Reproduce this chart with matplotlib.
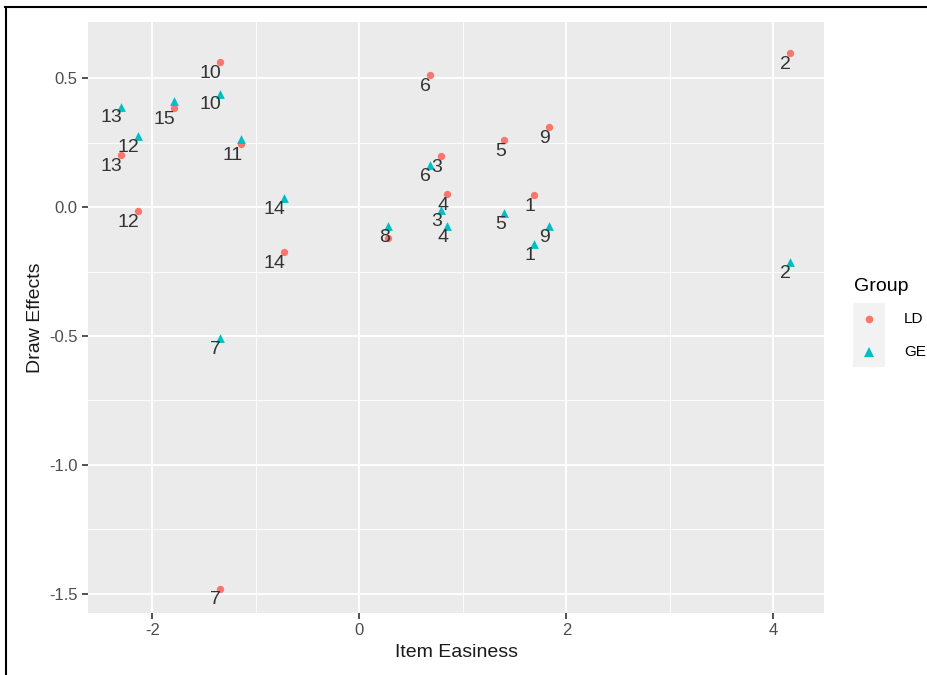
import matplotlib.pyplot as plt
from matplotlib.patches import Rectangle
from matplotlib.lines import Line2D

plt.rcParams['font.family'] = ['Liberation Sans', 'DejaVu Sans']

# item numbers and values
items = ["10", "15", "13", "12", "11", "14", "7", "6", "3", "4", "8", "5", "9", "1", "2"]

ld_x = [-1.35, -1.79, -2.30, -2.14, -1.14, -0.725, -1.35, 0.68, 0.79, 0.85, 0.28, 1.40, 1.83, 1.69, 4.16]
ld_y = [0.562, 0.384, 0.202, -0.016, 0.244, -0.174, -1.48, 0.512, 0.198, 0.050, -0.120, 0.260, 0.310, 0.047, 0.597]

ge_x = [-1.35, -1.79, -2.30, -2.14, -1.14, -0.725, -1.35, 0.68, 0.79, 0.85, 0.28, 1.40, 1.83, 1.69, 4.16]
ge_y = [0.440, 0.410, 0.390, 0.275, 0.263, 0.035, -0.508, 0.163, -0.012, -0.074, -0.074, -0.023, -0.074, -0.143, -0.213]

# labels that overlap another one are dropped in the original (check_overlap)
ld_show = [True, True, True, True, True, True, True, True, True, True, False, True, True, True, True]
ge_show = [True, False, True, True, False, True, True, True, True, True, True, True, True, True, True]

x_ticks = [-2, 0, 2, 4]
y_ticks = [-1.5, -1.0, -0.5, 0.0, 0.5]

red = "#F8766D"
teal = "#00BFC4"

fig = plt.figure(figsize=(9.27, 6.75), dpi=100)
ax = fig.add_axes([0.095, 0.092, 0.794, 0.875])
ax.set_facecolor("#EBEBEB")

ax.scatter(ld_x, ld_y, marker="o", s=28, color=red, zorder=3, linewidths=0)
ax.scatter(ge_x, ge_y, marker="^", s=40, color=teal, zorder=3, linewidths=0)

for lab, x, y, show in zip(items, ld_x, ld_y, ld_show):
    if show:
        ax.annotate(lab, (x, y), xytext=(1, -2), textcoords="offset points",
                    ha="right", va="top", fontsize=14, color="#333333", zorder=4)
for lab, x, y, show in zip(items, ge_x, ge_y, ge_show):
    if show:
        ax.annotate(lab, (x, y), xytext=(1, -2), textcoords="offset points",
                    ha="right", va="top", fontsize=14, color="#333333", zorder=4)

ax.set_xlim(-2.62, 4.49)
ax.set_ylim(-1.574, 0.717)
ax.set_xticks(x_ticks)
ax.set_yticks(y_ticks)
ax.set_xticklabels([str(t) for t in x_ticks])
ax.set_yticklabels([f"{t:.1f}" for t in y_ticks])
ax.set_xticks([-1, 1, 3], minor=True)
ax.set_yticks([-1.25, -0.75, -0.25, 0.25], minor=True)
ax.grid(which="major", color="white", linewidth=1.3)
ax.grid(which="minor", color="white", linewidth=0.6)
ax.set_axisbelow(True)
for s in ax.spines.values():
    s.set_visible(False)
ax.tick_params(which="major", length=4, width=1.2, color="#333333",
               labelsize=12, labelcolor="#4D4D4D")
ax.tick_params(which="minor", length=0)

ax.set_xlabel("Item Easiness", fontsize=14, color="#1a1a1a")
ax.set_ylabel("Draw Effects", fontsize=14, color="#1a1a1a")

# legend drawn in figure space, ggplot style
fig.text(0.921, 0.575, "Group", fontsize=14, ha="left", va="center")
fig.add_artist(Rectangle((0.920, 0.456), 0.035, 0.095, transform=fig.transFigure,
                         facecolor="#F2F2F2", edgecolor="none"))
fig.add_artist(Line2D([0.9375], [0.528], marker="o", markersize=5.5, color=red,
                      markeredgewidth=0, transform=fig.transFigure))
fig.add_artist(Line2D([0.9375], [0.479], marker="^", markersize=6.5, color=teal,
                      markeredgewidth=0, transform=fig.transFigure))
fig.text(0.975, 0.528, "LD", fontsize=11, ha="left", va="center")
fig.text(0.975, 0.479, "GE", fontsize=11, ha="left", va="center")

# frame lines on top and left of the image
fig.add_artist(Line2D([0.005, 1.0], [0.989, 0.989], color="black", linewidth=1.5,
                      transform=fig.transFigure))
fig.add_artist(Line2D([0.006, 0.006], [0.0, 0.989], color="black", linewidth=1.5,
                      transform=fig.transFigure))

fig.savefig("out.png", dpi=100)
